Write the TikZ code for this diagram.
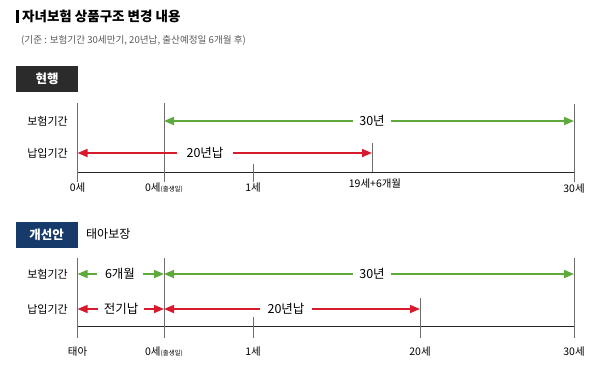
\documentclass[tikz,border=0pt]{standalone}
\usepackage{fontspec}
\setmainfont{Noto Sans CJK KR}
\usetikzlibrary{arrows.meta,positioning}

\definecolor{kgreen}{HTML}{5DA93C}
\definecolor{kred}{HTML}{D71A2C}
\definecolor{knavy}{HTML}{163A69}
\definecolor{kdark}{HTML}{2B2B2B}
\definecolor{kline}{HTML}{6E6E6E}

\tikzset{
  vline/.style={kline,line width=0.9pt},
  axis/.style={black!85,line width=0.8pt},
  tip/.style={-{Triangle[length=10pt,width=8pt]}},
  garrow/.style={kgreen,line width=1.7pt,tip},
  rarrow/.style={kred,line width=1.7pt,tip},
  rowlab/.style={anchor=east,inner sep=0pt,font=\fontsize{11}{13}\selectfont},
  barlab/.style={inner ysep=0pt,inner xsep=7pt,font=\fontsize{12.5}{14}\selectfont},
  agelab/.style={inner sep=0pt,font=\fontsize{10.5}{12}\selectfont},
  tagbox/.style={minimum width=62pt,minimum height=26pt,inner sep=0pt,
    text=white,font=\bfseries\fontsize{12.5}{14}\selectfont},
}
\newcommand{\birthtag}{{\fontsize{6.5}{7}\selectfont(출생일)}}

\begin{document}
\begin{tikzpicture}[x=1pt,y=-1pt]
  \useasboundingbox (0,0) rectangle (600,389);

  % title
  \fill[black] (16,9.5) rectangle (18.5,22.5);
  \node[anchor=west,inner sep=0pt,font=\bfseries\fontsize{13.5}{15}\selectfont] (title) at (22,16) {자녀보험 상품구조 변경 내용};
  \node[anchor=west,inner sep=0pt,text=black!65,font=\fontsize{9.6}{11}\selectfont] (sub) at (21,40) {(기준 : 보험기간 30세만기, 20년납, 출산예정일 6개월 후)};

  % ---------- 현행 ----------
  \node[tagbox,fill=kdark] (now) at (47,79) {현행};

  \coordinate (a0t) at (77.5,103);  \coordinate (a0b) at (77.5,182);
  \coordinate (b0t) at (164,103);   \coordinate (b0b) at (164,182);
  \coordinate (c0t) at (253,164);   \coordinate (c0b) at (253,182);
  \coordinate (d0t) at (372,143);   \coordinate (d0b) at (372,172);
  \coordinate (e0t) at (574,104);   \coordinate (e0b) at (574,182);
  \draw[axis] (a0t |- d0b) -- (e0t |- d0b);
  \foreach \p in {a0,b0,c0,d0,e0} \draw[vline] (\p t) -- (\p b);

  \node[rowlab] (ins1) at (68,121) {보험기간};
  \node[rowlab] (pay1) at (68,153) {납입기간};

  \node[barlab,inner xsep=6.5pt] (y30a) at (372,121) {30년};
  \draw[garrow] (y30a.west) -- (b0t |- y30a);
  \draw[garrow] (y30a.east) -- (e0t |- y30a);

  \node[barlab,inner xsep=9pt] (y20a) at (205,153) {20년납};
  \draw[rarrow] (y20a.west) -- (a0t |- y20a);
  \draw[rarrow] (y20a.east) -- (d0t |- y20a);

  \node[agelab] (g0a) at (77.5,188) {0세};
  \node[agelab] (g1a) at (164,188) {0세\birthtag};
  \node[agelab] (g2a) at (253,188) {1세};
  \node[agelab] (g3a) at (375,184) {19세+6개월};
  \node[agelab] (g4a) at (574,189) {30세};

  % ---------- 개선안 ----------
  \node[tagbox,fill=knavy] (new) at (46.5,234.5) {개선안};
  \node[anchor=west,inner sep=0pt,font=\fontsize{12}{14}\selectfont] (fetus) at (86,234) {태아보장};

  \coordinate (a1t) at (77.5,258);  \coordinate (a1b) at (77.5,338);
  \coordinate (b1t) at (164,258);   \coordinate (b1b) at (164,338);
  \coordinate (c1t) at (253,317);   \coordinate (c1b) at (253,338);
  \coordinate (d1t) at (420,298);   \coordinate (d1b) at (420,338);
  \coordinate (e1t) at (574,258);   \coordinate (e1b) at (574,338);
  \draw[axis] (77.5,326) -- (574,326);
  \foreach \p in {a1,b1,c1,d1,e1} \draw[vline] (\p t) -- (\p b);

  \node[rowlab] (ins2) at (68,274) {보험기간};
  \node[rowlab] (pay2) at (68,309) {납입기간};

  \node[barlab,inner xsep=7.5pt] (m6) at (120,274) {6개월};
  \draw[garrow] (m6.west) -- (a1t |- m6);
  \draw[garrow] (m6.east) -- (b1t |- m6);
  \node[barlab,inner xsep=6.5pt] (y30b) at (372,274) {30년};
  \draw[garrow] (y30b.west) -- (b1t |- y30b);
  \draw[garrow] (y30b.east) -- (e1t |- y30b);

  \node[barlab,inner xsep=6pt] (full) at (121,309) {전기납};
  \draw[rarrow] (full.west) -- (a1t |- full);
  \draw[rarrow] (full.east) -- (b1t |- full);
  \node[barlab,inner xsep=7.5pt] (y20b) at (286,309) {20년납};
  \draw[rarrow] (y20b.west) -- (b1t |- y20b);
  \draw[rarrow] (y20b.east) -- (d1t |- y20b);

  \node[agelab] (g0b) at (77.5,352) {태아};
  \node[agelab] (g1b) at (164,352) {0세\birthtag};
  \node[agelab] (g2b) at (253,352) {1세};
  \node[agelab] (g3b) at (420,352) {20세};
  \node[agelab] (g4b) at (574,352) {30세};
\end{tikzpicture}
\end{document}
